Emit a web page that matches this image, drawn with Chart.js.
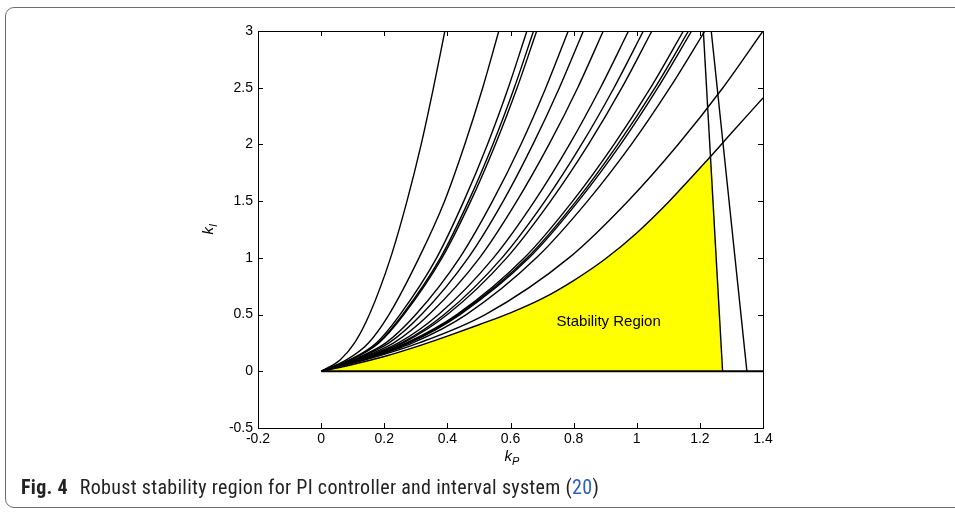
<!DOCTYPE html>
<html>
<head>
<meta charset="utf-8">
<script src="https://cdn.jsdelivr.net/npm/chart.js@4.4.0/dist/chart.umd.min.js"></script>
<style>
  body { margin: 0; background: #fff; }
  #wrap { position: relative; width: 955px; height: 513px; overflow: hidden; }
  #frame { position: absolute; left: 5px; top: 7px; width: 1000px; height: 501px; box-sizing: border-box;
           border: 1px solid #6e6e6e; border-radius: 9px; }
  #chart { position: absolute; left: 0; top: 0; }
  #caption { position: absolute; left: 21px; top: 475px; font-family: 'Liberation Sans Narrow', 'Roboto Condensed', 'Liberation Sans', sans-serif;
             font-size: 20px; letter-spacing: 0.3px; color: #222; white-space: nowrap; }
  #caption b { margin-right: 7px; }
  #caption .ref { color: #2b5fb8; }
</style>
</head>
<body>
<div id="wrap">
  <div id="frame"></div>
  <canvas id="chart" width="955" height="513"></canvas>
  <div id="caption"><b>Fig. 4</b> Robust stability region for PI controller and interval system (<span class="ref">20</span>)</div>
</div>
<script>
var kiLevels = [0, 0.1, 0.25, 0.5, 1, 1.5, 2, 2.5, 3];
var curveKp = [
  [0, 0.06, 0.106, 0.153, 0.22, 0.272, 0.317, 0.356, 0.392],
  [0, 0.08, 0.15, 0.215, 0.31, 0.391, 0.455, 0.512, 0.563],
  [0, 0.09, 0.175, 0.25, 0.366, 0.452, 0.527, 0.593, 0.652],
  [0, 0.092, 0.18, 0.258, 0.378, 0.467, 0.544, 0.612, 0.673],
  [0, 0.094, 0.183, 0.262, 0.383, 0.474, 0.552, 0.621, 0.683],
  [0, 0.10, 0.205, 0.30, 0.439, 0.543, 0.633, 0.712, 0.783],
  [0, 0.105, 0.215, 0.318, 0.466, 0.577, 0.671, 0.755, 0.831],
  [0, 0.11, 0.23, 0.342, 0.502, 0.62, 0.722, 0.813, 0.894],
  [0, 0.115, 0.245, 0.372, 0.546, 0.676, 0.787, 0.885, 0.974],
  [0, 0.118, 0.255, 0.39, 0.573, 0.709, 0.825, 0.928, 1.021],
  [0, 0.12, 0.26, 0.40, 0.588, 0.727, 0.847, 0.953, 1.048],
  [0, 0.125, 0.27, 0.43, 0.644, 0.797, 0.928, 1.044, 1.148],
  [0, 0.128, 0.275, 0.435, 0.653, 0.808, 0.94, 1.058, 1.164],
  [0, 0.13, 0.28, 0.44, 0.659, 0.815, 0.949, 1.067, 1.174],
  [0, 0.133, 0.29, 0.46, 0.682, 0.844, 0.983, 1.105, 1.216],
  [0, 0.14, 0.31, 0.52, 0.785, 0.972, 1.131, 1.273, 1.40]
];

// lowest boundary (top of the stability region)
var regionKp = [0, 0.1, 0.2, 0.3, 0.4, 0.5, 0.6, 0.7, 0.8, 0.9, 1.0, 1.1, 1.17, 1.236, 1.3, 1.4];
var regionKi = [0, 0.06, 0.13, 0.215, 0.31, 0.41, 0.515, 0.64, 0.8, 0.99, 1.22, 1.49, 1.7, 1.9, 2.1, 2.41];
var cornerKp = 1.236;

// two near-vertical boundaries
var edgeAKp = [1.211, 1.272];
var edgeBKp = [1.236, 1.349];
var edgeKi = [3, 0];

// kI = 0 boundary
var zeroKp = [0, 1.4];
var zeroKi = [0, 0];

var labelText = 'Stability Region';
var labelPos = [0.911, 0.438];

function pts(xs, ys) {
  var out = [];
  for (var i = 0; i < xs.length; i++) out.push({x: xs[i], y: ys[i]});
  return out;
}

function fmt(v) {
  var s = String(parseFloat(Number(v).toFixed(2)));
  return s === '-0' ? '0' : s;
}

var datasets = [];

// yellow region, drawn underneath everything (highest order)
var fillPts = [];
for (var i = 0; i < regionKp.length; i++) {
  if (regionKp[i] <= cornerKp) fillPts.push({x: regionKp[i], y: regionKi[i]});
}
fillPts.push({x: edgeAKp[1], y: 0});
datasets.push({
  data: fillPts, showLine: true, fill: 'origin', backgroundColor: '#ffff00', order: 10,
  borderWidth: 0, borderColor: 'rgba(0,0,0,0)', pointRadius: 0, tension: 0
});

curveKp.forEach(function (kp) {
  datasets.push({
    data: pts(kp, kiLevels), showLine: true, fill: false, borderColor: '#000', order: 1,
    borderWidth: 1.4, pointRadius: 0, cubicInterpolationMode: 'monotone'
  });
});

datasets.push({data: pts(regionKp, regionKi), showLine: true, borderColor: '#000', borderWidth: 1.4, pointRadius: 0, order: 1, cubicInterpolationMode: 'monotone'});
datasets.push({data: pts(edgeAKp, edgeKi), showLine: true, borderColor: '#000', borderWidth: 1.4, pointRadius: 0, order: 1});
datasets.push({data: pts(edgeBKp, edgeKi), showLine: true, borderColor: '#000', borderWidth: 1.4, pointRadius: 0, order: 1});
datasets.push({data: pts(zeroKp, zeroKi), showLine: true, borderColor: '#000', borderWidth: 2, pointRadius: 0, order: 1});

var boxPlugin = {
  id: 'box',
  afterDraw: function (chart) {
    var ctx = chart.ctx, a = chart.chartArea;
    var xs = chart.scales.x, ys = chart.scales.y;
    ctx.save();
    ctx.strokeStyle = '#000';
    ctx.lineWidth = 1;
    ctx.strokeRect(a.left + 0.5, a.top + 0.5, a.right - a.left, a.bottom - a.top);
    ctx.beginPath();
    xs.ticks.forEach(function (t) {
      var px = Math.round(xs.getPixelForValue(t.value)) + 0.5;
      ctx.moveTo(px, a.bottom); ctx.lineTo(px, a.bottom - 5);
      ctx.moveTo(px, a.top); ctx.lineTo(px, a.top + 5);
    });
    ys.ticks.forEach(function (t) {
      var py = Math.round(ys.getPixelForValue(t.value)) + 0.5;
      ctx.moveTo(a.left, py); ctx.lineTo(a.left + 5, py);
      ctx.moveTo(a.right, py); ctx.lineTo(a.right - 5, py);
    });
    ctx.stroke();

    // region label
    ctx.fillStyle = '#000';
    ctx.font = '15px "Liberation Sans", Arial, sans-serif';
    ctx.textAlign = 'center';
    ctx.textBaseline = 'middle';
    ctx.fillText(labelText, xs.getPixelForValue(labelPos[0]), ys.getPixelForValue(labelPos[1]));

    // axis titles k_P and k_I
    ctx.textAlign = 'left';
    ctx.textBaseline = 'alphabetic';
    var cx = (a.left + a.right) / 2;
    ctx.font = 'italic 15px "Liberation Sans", Arial, sans-serif';
    var kw = ctx.measureText('k').width;
    ctx.fillText('k', cx - 6, 461);
    ctx.font = 'italic 11px "Liberation Sans", Arial, sans-serif';
    ctx.fillText('P', cx - 6 + kw, 465);

    ctx.translate(213, (a.top + a.bottom) / 2);
    ctx.rotate(-Math.PI / 2);
    ctx.font = 'italic 15px "Liberation Sans", Arial, sans-serif';
    ctx.fillText('k', -5, 0);
    ctx.font = 'italic 11px "Liberation Sans", Arial, sans-serif';
    ctx.fillText('I', -5 + kw, 4);
    ctx.restore();
  }
};

Chart.defaults.font.family = '"Liberation Sans", Arial, sans-serif';
Chart.defaults.font.size = 14;
Chart.defaults.color = '#000';

new Chart(document.getElementById('chart').getContext('2d'), {
  type: 'scatter',
  data: {datasets: datasets},
  options: {
    responsive: false,
    animation: false,
    layout: {padding: {left: 200, right: 192, top: 31, bottom: 55}},
    plugins: {legend: {display: false}, tooltip: {enabled: false}},
    scales: {
      x: {
        type: 'linear', min: -0.2, max: 1.4,
        grid: {display: false, drawTicks: false},
        border: {display: false},
        ticks: {stepSize: 0.2, padding: 3, autoSkip: false, maxRotation: 0, callback: fmt},
        afterFit: function (s) { s.height = 30; }
      },
      y: {
        type: 'linear', min: -0.5, max: 3,
        grid: {display: false, drawTicks: false},
        border: {display: false},
        ticks: {stepSize: 0.5, padding: 5, autoSkip: false, callback: fmt},
        afterFit: function (s) { s.width = 58; }
      }
    }
  },
  plugins: [boxPlugin]
});
</script>
</body>
</html>
